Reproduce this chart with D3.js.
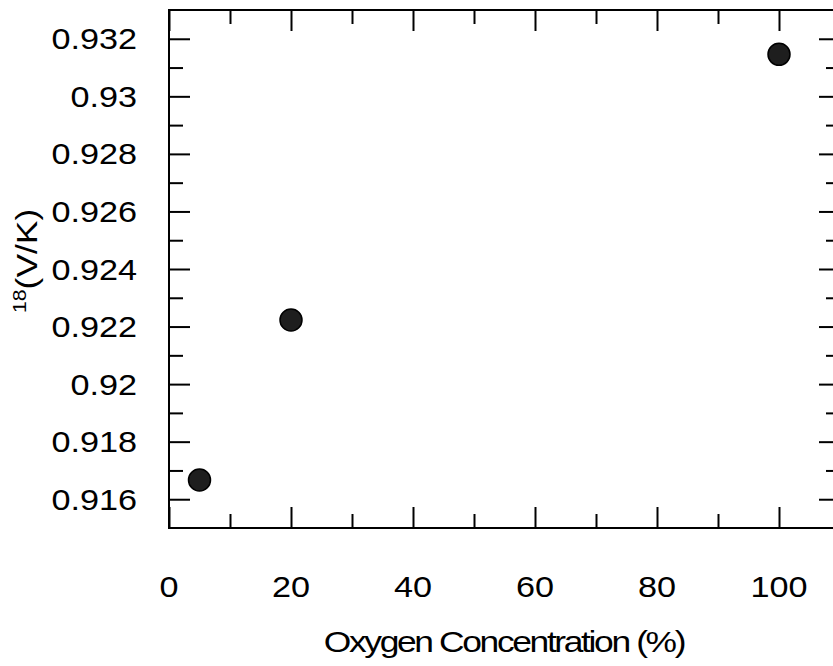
<!DOCTYPE html>
<html lang="en">
<head>
  <meta charset="UTF-8" />
  <title>18(V/K) vs Oxygen Concentration</title>
  <script src="https://d3js.org/d3.v7.min.js"></script>
  <style>
    body { margin: 0; overflow: hidden; background: #fff; }
    svg { background: #fff; }
    .tick line { stroke: #000; stroke-width: 2px; }
    .domain { display: none; }
    text { font-family: "Liberation Sans", Arial, sans-serif; fill: #000; }
  </style>
</head>
<body>
  <svg width="833" height="666"></svg>
  <script>
    // datos
    const oxygen = [5, 20, 100];
    const ratio = [0.91667, 0.92223, 0.93146];

    const xMajor = [0, 20, 40, 60, 80, 100];
    const xMinor = [10, 30, 50, 70, 90, 110];
    const xLabels = ["0", "20", "40", "60", "80", "100"];

    const yMajor = [0.916, 0.918, 0.920, 0.922, 0.924, 0.926, 0.928, 0.930, 0.932];
    const yMinor = [0.917, 0.919, 0.921, 0.923, 0.925, 0.927, 0.929, 0.931];
    const yLabels = ["0.916", "0.918", "0.92", "0.922", "0.924", "0.926", "0.928", "0.93", "0.932"];

    const width = 833, height = 666;
    const mLeft = 169, mRight = 840, mTop = 10, mBottom = 528;
    const stretch = 1.18; // las letras del original son más anchas

    const svg = d3.select("svg").attr("width", width).attr("height", height);

    const x = d3.scaleLinear().domain([0, 110]).range([mLeft, mRight]);
    const y = d3.scaleLinear().domain([0.915, 0.933]).range([mBottom, mTop]);

    // ticks hacia dentro en los cuatro lados
    const major = 21, minor = 14;
    function addAxis(axisFn, scale, vals, size, tx, ty) {
      svg.append("g")
        .attr("transform", `translate(${tx},${ty})`)
        .call(axisFn(scale).tickValues(vals).tickSize(size).tickFormat(""));
    }
    addAxis(d3.axisBottom, x, xMajor, -major, 0, mBottom);
    addAxis(d3.axisBottom, x, xMinor, -minor, 0, mBottom);
    addAxis(d3.axisTop, x, xMajor, -major, 0, mTop);
    addAxis(d3.axisTop, x, xMinor, -minor, 0, mTop);
    addAxis(d3.axisLeft, y, yMajor, -major, mLeft, 0);
    addAxis(d3.axisLeft, y, yMinor, -minor, mLeft, 0);
    addAxis(d3.axisRight, y, yMajor, -major, mRight, 0);
    addAxis(d3.axisRight, y, yMinor, -minor, mRight, 0);

    // marco
    svg.append("rect")
      .attr("x", mLeft).attr("y", mTop)
      .attr("width", mRight - mLeft).attr("height", mBottom - mTop)
      .attr("fill", "none").attr("stroke", "#000").attr("stroke-width", 2);

    // etiquetas de los ticks
    svg.append("g").selectAll("text")
      .data(xMajor)
      .enter().append("text")
        .attr("transform", d => `translate(${x(d)},597) scale(${stretch},1)`)
        .attr("text-anchor", "middle")
        .style("font-size", "29px")
        .text((d, i) => xLabels[i]);

    svg.append("g").selectAll("text")
      .data(yMajor)
      .enter().append("text")
        .attr("transform", d => `translate(137,${y(d) + 10.5}) scale(${stretch},1)`)
        .attr("text-anchor", "end")
        .style("font-size", "29px")
        .text((d, i) => yLabels[i]);

    // títulos
    svg.append("text")
      .attr("transform", `translate(504,652) scale(${stretch},1)`)
      .attr("text-anchor", "middle")
      .style("font-size", "30px")
      .style("letter-spacing", "-2px")
      .text("Oxygen Concentration (%)");

    const yt = svg.append("text")
      .attr("transform", `translate(37,313) rotate(-90) scale(${stretch},1)`)
      .attr("text-anchor", "start")
      .style("font-size", "30px");
    yt.append("tspan").attr("dy", -11).style("font-size", "18px").text("18");
    yt.append("tspan").attr("dy", 11).text("(V/K)");

    // puntos
    svg.append("g").selectAll("circle")
      .data(oxygen)
      .enter().append("circle")
        .attr("cx", d => x(d))
        .attr("cy", (d, i) => y(ratio[i]))
        .attr("r", 11)
        .attr("fill", "#1e1e1e")
        .attr("stroke", "#000")
        .attr("stroke-width", 1.5);
  </script>
</body>
</html>
